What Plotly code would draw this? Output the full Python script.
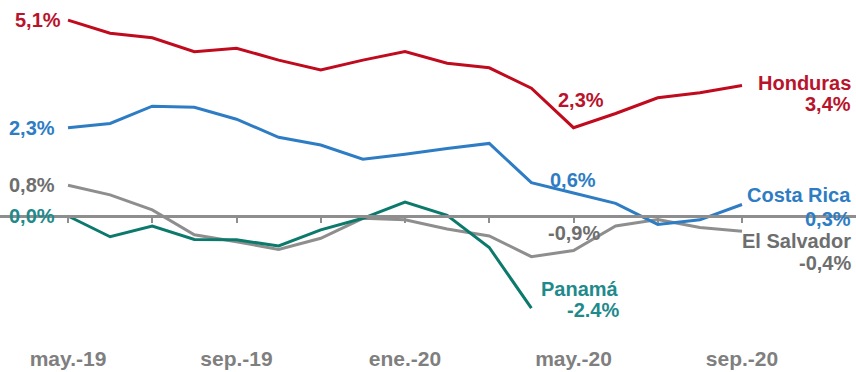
import plotly.graph_objects as go

# Monthly series, May 2019 - September 2020
months = ["may.-19", "jun.-19", "jul.-19", "ago.-19", "sep.-19", "oct.-19", "nov.-19",
          "dic.-19", "ene.-20", "feb.-20", "mar.-20", "abr.-20", "may.-20", "jun.-20",
          "jul.-20", "ago.-20", "sep.-20"]

honduras = [5.1, 4.76, 4.64, 4.28, 4.37, 4.06, 3.80, 4.06, 4.28, 3.98, 3.86, 3.33,
            2.3, 2.67, 3.08, 3.21, 3.4]
costa_rica = [2.3, 2.41, 2.86, 2.83, 2.52, 2.05, 1.85, 1.48, 1.61, 1.76, 1.89, 0.87,
              0.6, 0.33, -0.22, -0.10, 0.3]
el_salvador = [0.8, 0.55, 0.16, -0.49, -0.67, -0.87, -0.58, -0.06, -0.10, -0.34, -0.52,
               -1.06, -0.9, -0.26, -0.09, -0.30, -0.4]
panama = [0.0, -0.54, -0.26, -0.61, -0.62, -0.78, -0.36, -0.06, 0.36, 0.02, -0.82, -2.4]

tick_labels = ["may.-19", "sep.-19", "ene.-20", "may.-20", "sep.-20"]

RED, RED_T = "#C00A1E", "#B8142C"
BLUE, BLUE_T = "#2E7DC4", "#2E7DC4"
GRAY, GRAY_T = "#8E8E8E", "#6E6E6E"
TEAL, TEAL_T = "#0B7A6C", "#1F8A8C"
FONT = "Liberation Sans, Arial, sans-serif"

fig = go.Figure()
for vals, col, name in [(el_salvador, GRAY, "El Salvador"), (panama, TEAL, "Panamá"),
                        (costa_rica, BLUE, "Costa Rica"), (honduras, RED, "Honduras")]:
    fig.add_trace(go.Scatter(x=months[:len(vals)], y=vals, mode="lines", name=name,
                             line=dict(color=col, width=3), showlegend=False,
                             hoverinfo="skip"))

# invisible trace on the overlay axis so it shares the category positions
fig.add_trace(go.Scatter(x=months, y=[0] * len(months), xaxis="x2", mode="lines",
                         line=dict(width=0), showlegend=False, hoverinfo="skip"))

px_per_month = 42.125
x_left = -68 / px_per_month
x_range = [x_left, x_left + 856 / px_per_month]
px_per_pct = 38.4
y_top = 216 / px_per_pct
y_range = [y_top - 338 / px_per_pct, y_top]


def label(text, i, v, color, xanchor="center", xshift=0, yshift=0):
    fig.add_annotation(x=i, y=v, xref="x", yref="y", text=f"<b>{text}</b>",
                       showarrow=False, xanchor=xanchor, yanchor="middle",
                       xshift=xshift, yshift=yshift,
                       font=dict(family=FONT, size=20, color=color))


label("5,1%", 0, honduras[0], RED_T, "right", -5)
label("2,3%", 0, costa_rica[0], BLUE_T, "right", -11)
label("0,8%", 0, el_salvador[0], GRAY_T, "right", -11)
label("0,0%", 0, panama[0], TEAL_T, "right", -11)
label("2,3%", 12, honduras[12], RED_T, "center", 7, 28)
label("0,6%", 12, costa_rica[12], BLUE_T, "center", -1, 13)
label("-0,9%", 12, el_salvador[12], GRAY_T, "center", 0, 18)
label("Honduras", 16, honduras[16], RED_T, "right", 111, 2)
label("3,4%", 16, honduras[16], RED_T, "right", 111, -19)
label("Costa Rica", 16, costa_rica[16], BLUE_T, "right", 111, 9)
label("0,3%", 16, costa_rica[16], BLUE_T, "right", 111, -15)
label("El Salvador", 16, el_salvador[16], GRAY_T, "right", 111, -10)
label("-0,4%", 16, el_salvador[16], GRAY_T, "right", 111, -32)
label("Panamá", 11, panama[11], TEAL_T, "right", 90, 19)
label("-2.4%", 11, panama[11], TEAL_T, "right", 90, -2)

fig.update_layout(
    width=856, height=372,
    margin=dict(l=0, r=0, t=0, b=34),
    paper_bgcolor="white", plot_bgcolor="white",
    xaxis=dict(type="category", categoryorder="array", categoryarray=months,
               range=x_range, showgrid=False, zeroline=False, showline=False,
               ticks="", tickmode="array", tickvals=tick_labels,
               ticktext=[f"<b>{t}</b>" for t in tick_labels],
               ticklabelstandoff=6,
               tickfont=dict(family=FONT, size=21, color="#7F7F7F")),
    xaxis2=dict(type="category", categoryorder="array", categoryarray=months,
                overlaying="x", anchor="free",
                position=(338 - 216) / 338,
                range=x_range, showgrid=False, zeroline=False,
                showline=True, linecolor=GRAY, linewidth=2.5,
                ticks="outside", ticklen=5, tickwidth=2, tickcolor=GRAY,
                tickmode="array", tickvals=months[::2], showticklabels=False),
    yaxis=dict(range=y_range, visible=False, showgrid=False, zeroline=False),
)

fig.write_html("out.html")
